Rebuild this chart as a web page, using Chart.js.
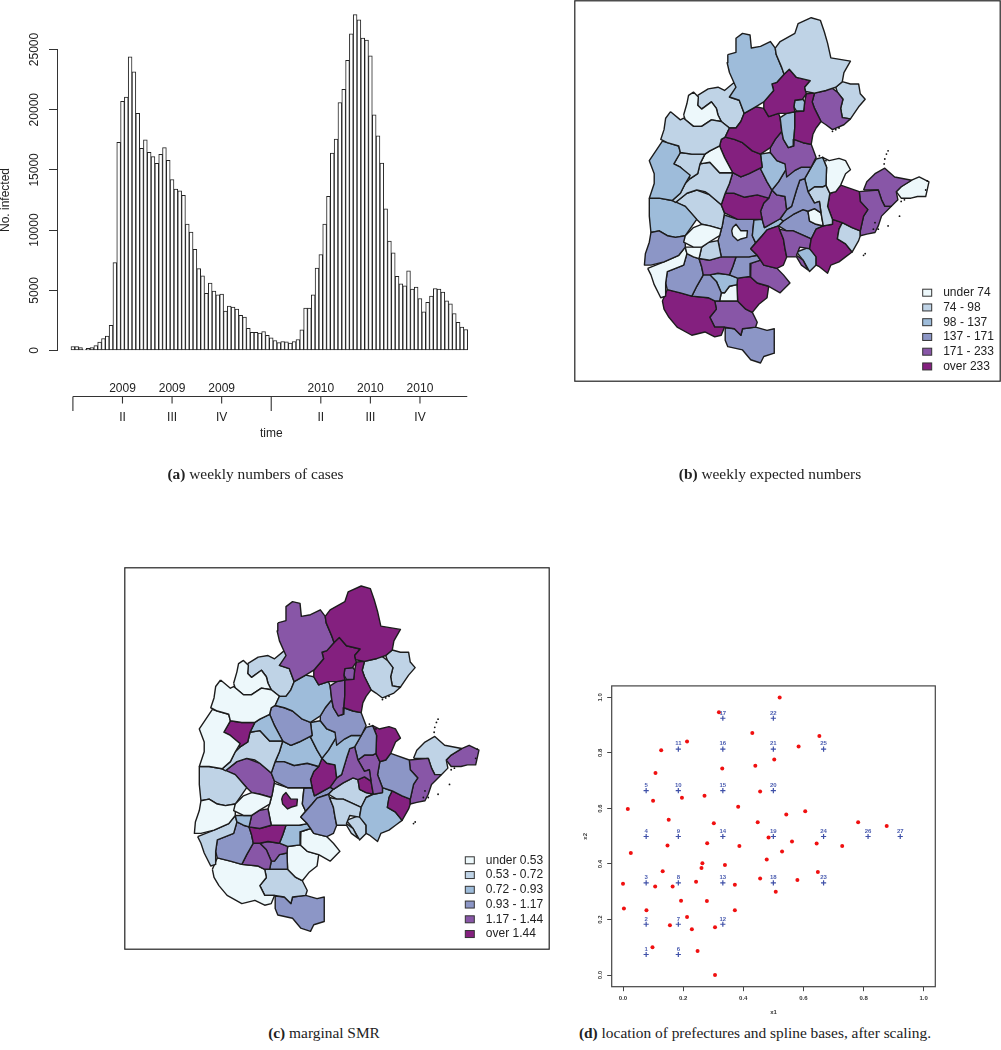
<!DOCTYPE html>
<html>
<head>
<meta charset="utf-8">
<title>weekly cases, expected numbers, SMR, spline bases</title>
<script src="https://cdn.jsdelivr.net/npm/chart.js@4/dist/chart.umd.min.js"></script>
<style>
  html, body { margin: 0; background: #fff; }
  body { position: relative; width: 1001px; height: 1050px; overflow: hidden; }
  canvas { position: absolute; }
  #chartA { left: 0; top: 0; }
  #chartB { left: 574px; top: 0; }
  #chartC { left: 124px; top: 567px; }
  #chartD { left: 570px; top: 680px; }
  .cap { position: absolute; font: 15.4px "Liberation Serif", serif; color: #222; white-space: nowrap; transform: translateX(-50%); }
</style>
</head>
<body>
<canvas id="chartA" width="500" height="490"></canvas>
<canvas id="chartB" width="427" height="382"></canvas>
<canvas id="chartC" width="426" height="383"></canvas>
<canvas id="chartD" width="380" height="340"></canvas>
<div class="cap" style="left:255.5px;top:465px"><b>(a)</b> weekly numbers of cases</div>
<div class="cap" style="left:770px;top:465px"><b>(b)</b> weekly expected numbers</div>
<div class="cap" style="left:324px;top:1024px"><b>(c)</b> marginal SMR</div>
<div class="cap" style="left:755px;top:1024px"><b>(d)</b> location of prefectures and spline bases, after scaling.</div>
<script>
// --- panel a: weekly cases, 104 weeks ---
const weeklyCases = [
  330,330,250,100,170,250,400,700,1000,1200,2100,7300,17300,20700,21050,24400,23150,19700,16800,17500,
  16450,16100,15550,16300,16850,15800,14200,13400,13260,12880,10500,9830,8400,6800,6200,4750,5600,4930,4620,4680,
  3270,3680,3600,3430,2930,2770,1850,1500,1500,1440,1580,1270,1050,830,660,750,720,610,750,910,
  1720,3520,3520,4620,6840,7970,10500,12800,16400,17550,20600,21700,24100,26300,27900,27470,25950,25780,24480,19580,
  17830,15560,11770,9080,8110,6150,5540,5370,6620,5100,5260,4320,3210,4010,4510,5150,5100,4850,4130,3880,
  3070,2350,1940,1745
];
const yearTicks = [1, 53];
const quarterTicks = [14, 27, 40, 66, 79, 92];
const quarterYears = ['2009', '2009', '2009', '2010', '2010', '2010'];
const quarterNames = ['II', 'III', 'IV', 'II', 'III', 'IV'];
const axisEndWeek = 104.4;
const caseTicks = [0, 5000, 10000, 15000, 20000, 25000];

const prefectures = [
  [[465,105],[480,85],[525,60],[535,30],[575,12],[603,20],[615,55],[625,90],[635,135],[695,145],[675,180],[670,208],[650,225],[620,235],[585,243],[558,238],[555,225],[572,205],[530,195],[508,170],[492,185],[485,165],[468,125]],
  [[320,125],[345,118],[345,75],[365,60],[388,65],[392,105],[420,100],[450,85],[465,105],[468,125],[485,165],[492,185],[470,210],[455,215],[460,235],[430,270],[405,285],[370,305],[355,265],[325,255],[345,225],[325,180],[318,150]],
  [[455,215],[470,210],[492,185],[508,170],[530,195],[572,205],[555,225],[560,245],[548,262],[525,265],[522,285],[525,300],[500,305],[475,305],[445,315],[430,290],[430,270],[460,235]],
  [[525,265],[550,262],[555,270],[552,298],[530,298],[522,285]],
  [[560,245],[585,243],[578,270],[585,290],[605,330],[590,350],[580,370],[575,400],[550,395],[522,385],[525,345],[525,300],[552,298],[555,270]],
  [[585,243],[620,235],[635,225],[655,240],[672,262],[665,290],[670,318],[695,322],[675,340],[640,355],[620,340],[605,330],[585,290],[578,270]],
  [[650,225],[670,208],[695,215],[720,215],[725,245],[740,262],[720,285],[695,322],[670,318],[665,290],[672,262],[655,240]],
  [[480,318],[500,305],[525,300],[525,345],[522,385],[520,405],[505,410],[490,385],[485,360]],
  [[370,305],[405,285],[430,290],[445,315],[475,305],[480,318],[485,360],[465,385],[450,410],[420,430],[395,420],[365,395],[340,385],[312,378],[325,350],[345,350],[360,330]],
  [[465,385],[485,360],[490,385],[505,410],[520,405],[522,385],[550,395],[575,400],[590,440],[575,470],[545,470],[525,480],[500,500],[495,460],[470,450],[450,425],[450,410]],
  [[145,300],[175,325],[185,320],[215,345],[240,345],[270,325],[300,330],[325,350],[312,378],[300,385],[295,405],[265,420],[250,430],[210,430],[175,425],[170,405],[135,395],[115,385],[125,355],[130,320]],
  [[185,310],[195,275],[200,250],[215,240],[230,255],[228,280],[240,292],[270,270],[285,290],[290,310],[300,330],[270,325],[240,345],[215,345],[190,325]],
  [[228,250],[260,230],[290,225],[310,235],[340,210],[360,235],[325,255],[355,265],[370,305],[360,330],[345,350],[325,350],[300,330],[290,310],[285,290],[270,270],[240,292],[228,280]],
  [[120,390],[135,395],[170,405],[175,425],[155,460],[175,470],[205,495],[190,520],[175,550],[150,572],[110,565],[80,565],[95,520],[95,490],[80,450],[100,420]],
  [[175,425],[210,430],[250,430],[235,460],[228,490],[205,505],[175,470],[155,460]],
  [[250,430],[265,420],[295,405],[310,440],[335,487],[295,487],[265,455],[235,460]],
  [[235,460],[265,455],[295,487],[335,487],[325,520],[312,550],[300,585],[265,555],[250,545],[225,540],[195,550],[160,578],[150,572],[175,550],[190,520],[205,505],[228,490]],
  [[300,385],[312,378],[340,385],[365,395],[395,420],[420,430],[425,470],[385,490],[360,500],[335,487],[310,440],[295,405]],
  [[420,430],[450,425],[470,450],[495,460],[505,465],[475,515],[455,540],[440,515],[420,475],[425,470]],
  [[335,487],[360,500],[385,490],[425,470],[420,475],[440,515],[455,540],[445,565],[410,555],[370,562],[340,550],[312,550],[325,520]],
  [[300,585],[312,550],[340,550],[370,562],[410,555],[445,565],[430,580],[420,605],[425,630],[400,630],[350,630],[310,610]],
  [[545,470],[575,470],[555,505],[540,510],[530,540],[515,590],[500,600],[495,560],[470,555],[455,540],[475,515],[505,465],[525,480]],
  [[445,565],[455,540],[470,555],[495,560],[500,600],[480,628],[432,655],[425,630],[420,605],[430,580]],
  [[540,510],[555,505],[565,545],[585,580],[600,575],[605,610],[585,597],[565,605],[550,600],[520,615],[490,635],[480,628],[500,600],[515,590],[530,540]],
  [[575,470],[590,445],[610,440],[622,470],[620,525],[610,530],[585,530],[565,545],[555,505]],
  [[610,440],[630,450],[660,443],[680,450],[695,478],[680,490],[665,525],[650,545],[632,550],[620,525],[622,470]],
  [[565,545],[585,530],[610,530],[620,525],[632,550],[625,590],[640,630],[640,645],[612,650],[605,610],[600,575],[585,580]],
  [[565,605],[585,597],[605,610],[612,650],[590,645],[570,635]],
  [[632,550],[650,545],[665,525],[722,545],[725,575],[748,600],[735,620],[725,665],[700,655],[670,640],[640,630],[625,590]],
  [[722,545],[780,540],[790,570],[800,590],[820,590],[790,620],[780,650],[770,670],[745,675],[725,680],[725,665],[735,620],[748,600],[725,575]],
  [[735,540],[745,515],[770,490],[800,473],[830,500],[882,510],[850,530],[835,545],[840,570],[820,590],[800,590],[790,570],[780,540]],
  [[882,510],[905,500],[935,515],[925,560],[900,560],[880,565],[850,565],[835,545],[850,530]],
  [[660,660],[670,640],[700,655],[725,665],[725,680],[720,695],[700,730],[680,705],[655,690]],
  [[575,690],[590,660],[612,650],[640,645],[640,630],[670,640],[660,660],[655,690],[680,705],[700,730],[680,745],[660,760],[635,770],[625,795],[600,775],[590,770],[590,745],[570,720]],
  [[478,660],[500,665],[520,665],[575,690],[570,720],[540,715],[530,740],[550,755],[565,785],[545,770],[530,745],[500,745],[495,720],[490,690]],
  [[490,635],[520,615],[550,600],[565,605],[570,635],[590,645],[612,650],[590,660],[575,690],[520,665],[500,665],[475,650]],
  [[530,730],[570,715],[590,745],[590,770],[570,790],[550,755]],
  [[390,720],[425,680],[440,662],[475,650],[478,660],[490,690],[495,720],[500,745],[490,770],[470,780],[430,770],[420,755],[410,740]],
  [[400,632],[425,630],[432,655],[480,628],[490,635],[475,650],[440,662],[425,680],[405,702],[395,680]],
  [[190,680],[215,655],[240,645],[265,650],[300,660],[295,680],[262,700],[240,715],[215,715],[185,700]],
  [[85,670],[110,665],[135,680],[160,685],[190,680],[190,715],[170,740],[125,760],[85,770],[65,770],[68,735],[80,700]],
  [[80,565],[110,565],[150,572],[190,590],[225,630],[190,680],[160,685],[135,680],[110,665],[85,670],[80,620]],
  [[160,578],[195,550],[225,540],[265,555],[300,585],[310,610],[303,650],[300,660],[265,650],[240,645],[225,630],[190,590]],
  [[190,715],[215,715],[240,715],[232,750],[215,745],[195,735]],
  [[240,715],[262,700],[290,695],[300,745],[265,755],[232,750]],
  [[335,655],[345,645],[360,665],[380,665],[378,685],[360,690],[350,695],[335,680],[332,665]],
  [[305,615],[350,630],[400,630],[395,680],[405,702],[390,720],[410,740],[385,745],[345,745],[300,745],[290,695],[295,680],[303,650],[310,610]],
  [[240,775],[232,750],[265,755],[300,745],[345,745],[335,775],[325,800],[290,795],[265,800],[245,800]],
  [[345,745],[385,745],[410,740],[420,755],[390,765],[388,805],[350,810],[325,800],[335,775]],
  [[390,765],[420,755],[430,770],[470,780],[490,800],[510,825],[480,855],[445,835],[410,825],[388,805]],
  [[75,780],[125,760],[170,740],[190,715],[195,735],[185,770],[135,790],[130,825],[130,865],[115,870],[95,830],[85,800]],
  [[135,790],[185,770],[195,735],[215,745],[232,750],[240,775],[245,800],[225,835],[210,865],[175,855],[135,845],[130,825]],
  [[245,800],[265,800],[285,820],[300,855],[295,880],[280,880],[260,870],[210,865],[225,835]],
  [[265,800],[290,795],[325,800],[350,810],[348,830],[325,835],[310,855],[300,855],[285,820]],
  [[300,855],[310,855],[325,835],[348,830],[350,880],[320,880],[295,880]],
  [[350,810],[388,805],[410,825],[445,835],[440,870],[415,890],[395,915],[375,905],[350,880],[348,830]],
  [[120,880],[135,845],[175,855],[210,865],[260,870],[280,880],[285,905],[265,930],[280,960],[310,960],[300,985],[280,990],[250,975],[210,985],[165,960],[140,930],[125,905]],
  [[280,880],[295,880],[320,880],[350,880],[375,905],[395,915],[410,945],[405,960],[365,965],[360,985],[340,965],[310,960],[280,960],[265,930],[285,905]],
  [[312,962],[340,965],[360,985],[365,965],[405,960],[440,970],[462,965],[462,1040],[430,1050],[420,1070],[390,1060],[365,1030],[320,1020],[312,1000]]
];
const expectedClass = [1,2,5,2,5,4,1,2,5,4,1,0,1,2,1,0,1,5,2,4,5,3,4,3,2,0,1,0,5,4,4,0,1,5,4,3,2,5,2,0,3,2,1,0,1,0,3,4,3,4,0,3,3,2,0,5,5,4,3];
const smrClass =      [5,4,5,4,5,1,1,4,2,3,0,0,1,0,5,2,1,3,2,2,3,2,5,4,3,5,4,5,3,4,1,4,5,2,1,1,1,3,3,0,0,1,4,2,4,5,0,5,2,0,1,3,4,4,3,0,0,1,3];
const classColours = ['#edf8fb', '#bfd3e6', '#9ebcda', '#8c96c6', '#8856a7', '#84207f'];
const expectedLabels = ['under 74', '74 - 98', '98 - 137', '137 - 171', '171 - 233', 'over 233'];
const smrLabels = ['under 0.53', '0.53 - 0.72', '0.72 - 0.93', '0.93 - 1.17', '1.17 - 1.44', 'over 1.44'];
const islands = [[640,360],[650,355],[660,350],[600,435],[610,440],[620,450],[805,430],[800,445],[798,460],[810,420],[740,735],[735,740],[845,620],[810,650],[765,660],[780,660],[770,640],[860,570],[850,575],[930,512],[925,540]];

// --- panel d: prefecture locations (red) and spline knots (blue) ---
const prefX = [.319,.430,.213,.127,.440,.330,.108,.456,.271,.196,.100,.383,.016,.152,.448,.302,.484,.280,.148,.387,.026,.478,.264,.339,.261,.132,.456,.243,0,.372,.107,.165,.193,.279,.003,.078,.372,.213,.156,.229,.306,.098,.248,.306,.521,.653,.584,.503,.543,.606,.782,.877,.562,.644,.729,.529,.648,.580,.508];
const prefY = [.947,.872,.841,.810,.754,.744,.728,.661,.646,.639,.628,.606,.598,.559,.550,.547,.495,.475,.467,.465,.440,.416,.403,.396,.386,.374,.348,.336,.329,.325,.319,.319,.268,.267,.240,.233,.233,.209,.179,.165,.172,.100,.087,0,1,.861,.823,.776,.578,.590,.550,.537,.481,.474,.465,.445,.371,.342,.300];
const knotX = [.077,.077,.077,.077,.077,.184,.184,.184,.184,.184,.184,.332,.332,.332,.332,.332,.332,.5,.5,.5,.5,.5,.667,.667,.667,.815,.922];
const knotY = [.074,.183,.332,.499,.664,.074,.183,.332,.499,.664,.814,.183,.332,.499,.664,.814,.925,.332,.499,.664,.814,.925,.332,.499,.814,.499,.499];
const unitTicks = [0, 0.2, 0.4, 0.6, 0.8, 1];

const SANS = '"Liberation Sans", Arial, sans-serif';
const INK = '#333';

// --- panel a ---
// year / quarter axis under the bars, R style
const quarterAxis = {
  id: 'quarterAxis',
  afterDraw(chart) {
    const ctx = chart.ctx, sx = chart.scales.x;
    ctx.save();
    ctx.strokeStyle = INK; ctx.fillStyle = '#222'; ctx.lineWidth = 1.1;
    ctx.font = '12px ' + SANS; ctx.textAlign = 'center'; ctx.textBaseline = 'middle';
    ctx.beginPath();
    ctx.moveTo(sx.getPixelForValue(yearTicks[0]), 396.5);
    ctx.lineTo(sx.getPixelForValue(axisEndWeek), 396.5);
    yearTicks.forEach(w => {
      ctx.moveTo(sx.getPixelForValue(w), 396.5);
      ctx.lineTo(sx.getPixelForValue(w), 411);
    });
    quarterTicks.forEach((w, i) => {
      const x = sx.getPixelForValue(w);
      ctx.moveTo(x, 396.5);
      ctx.lineTo(x, 403.5);
      ctx.fillText(quarterYears[i], x, 389);
      ctx.fillText(quarterNames[i], x, 418);
    });
    ctx.stroke();
    ctx.fillText('time', sx.getPixelForValue(yearTicks[1]), 433.5);
    ctx.restore();
  }
};

new Chart(document.getElementById('chartA'), {
  type: 'bar',
  data: {
    datasets: [{
      data: weeklyCases.map((v, i) => ({ x: i + 1, y: v })),
      backgroundColor: '#fff',
      borderColor: '#222',
      borderWidth: 1,
      borderSkipped: false,
      barPercentage: 1,
      categoryPercentage: 1,
      clip: false
    }]
  },
  plugins: [quarterAxis],
  options: {
    responsive: false,
    animation: false,
    layout: { padding: { top: 49.5, right: 20, bottom: 139.5, left: 0 } },
    plugins: { legend: { display: false }, tooltip: { enabled: false } },
    scales: {
      x: { type: 'linear', display: false, offset: false, min: -3.17, max: 107.74 },
      y: {
        min: 0, max: 25000,
        afterFit(s) { s.width = 57; },
        afterBuildTicks(s) { s.ticks = caseTicks.map(v => ({ value: v })); },
        grid: { drawOnChartArea: false, tickLength: 8, color: INK },
        border: { color: INK },
        ticks: { minRotation: 90, maxRotation: 90, crossAlign: 'center', padding: -2.7, autoSkip: false, color: '#222', font: { family: SANS, size: 12 }, callback: v => String(v) },
        title: { display: true, text: 'No. infected', color: '#222', padding: { top: -1.5, bottom: 0 }, font: { family: SANS, size: 12 } }
      }
    }
  }
});

// --- panels b, c ---
// frame round the map and the class legend, same in both
const mapFrame = {
  id: 'mapFrame',
  afterDraw(chart, args, opts) {
    const ctx = chart.ctx;
    ctx.save();
    ctx.strokeStyle = '#222'; ctx.lineWidth = 1.2;
    ctx.strokeRect(0.8, 0.8, chart.width - 1.6, chart.height - 1.6);
    ctx.font = '12px ' + SANS; ctx.textBaseline = 'middle'; ctx.fillStyle = '#222';
    opts.labels.forEach((label, i) => {
      const y = opts.legendY + i * 14.75;
      ctx.fillStyle = classColours[i];
      ctx.fillRect(opts.legendX, y - 3.5, 9, 7);
      ctx.lineWidth = 1; ctx.strokeStyle = '#333';
      ctx.strokeRect(opts.legendX, y - 3.5, 9, 7);
      ctx.fillStyle = '#222';
      ctx.fillText(label, opts.legendX + 20.5, y);
    });
    ctx.restore();
  }
};

function drawMap(canvasId, classes, labels, xMin, xMax, yMin, yMax, legendX, legendY) {
  const sets = [{
    data: islands.map(p => ({ x: p[0], y: p[1] })),
    showLine: false, pointRadius: 0.9, pointBackgroundColor: '#111', pointBorderWidth: 0
  }];
  prefectures.forEach((outline, i) => {
    const pts = outline.concat([outline[0]]);
    sets.push({
      data: pts.map(p => ({ x: p[0], y: p[1] })),
      showLine: true,
      tension: 0,
      fill: 'shape',
      backgroundColor: classColours[classes[i]],
      borderColor: '#1c1c1c',
      borderWidth: 1.4,
      borderJoinStyle: 'round',
      pointRadius: 0
    });
  });
  new Chart(document.getElementById(canvasId), {
    type: 'scatter',
    data: { datasets: sets },
    plugins: [mapFrame],
    options: {
      responsive: false,
      animation: false,
      layout: { padding: 0 },
      plugins: {
        legend: { display: false },
        tooltip: { enabled: false },
        mapFrame: { labels, legendX, legendY }
      },
      scales: {
        x: { type: 'linear', display: false, min: xMin, max: xMax },
        y: { type: 'linear', display: false, reverse: true, min: yMin, max: yMax }
      }
    }
  });
}
drawMap('chartB', expectedClass, expectedLabels, -138, 1143, -30, 1116, 348.7, 292.7);
drawMap('chartC', smrClass, smrLabels, -138, 1140, -34, 1115, 341.3, 293.3);

// --- panel d ---
const knotNumbers = {
  id: 'knotNumbers',
  afterDatasetsDraw(chart) {
    const ctx = chart.ctx, a = chart.chartArea;
    ctx.save();
    ctx.strokeStyle = '#444'; ctx.lineWidth = 1.2;
    ctx.strokeRect(a.left, a.top, a.right - a.left, a.bottom - a.top);
    ctx.fillStyle = '#4a5cb0';
    ctx.font = 'bold 6px ' + SANS; ctx.textAlign = 'center'; ctx.textBaseline = 'middle';
    knotX.forEach((v, i) => {
      ctx.fillText(String(i + 1), chart.scales.x.getPixelForValue(v), chart.scales.y.getPixelForValue(knotY[i]) - 5.3);
    });
    ctx.restore();
  }
};

const smallFont = { family: SANS, size: 6, weight: 'bold' };
new Chart(document.getElementById('chartD'), {
  type: 'scatter',
  data: {
    datasets: [
      {
        data: prefX.map((v, i) => ({ x: v, y: prefY[i] })),
        pointStyle: 'circle', pointRadius: 2, pointBackgroundColor: '#f01010', pointBorderWidth: 0
      },
      {
        data: knotX.map((v, i) => ({ x: v, y: knotY[i] })),
        pointStyle: 'cross', pointRadius: 2.6, pointBorderColor: '#3f50a8', pointBorderWidth: 1.2
      }
    ]
  },
  plugins: [knotNumbers],
  options: {
    responsive: false,
    animation: false,
    layout: { padding: { top: 4.7, right: 14.7, bottom: 0, left: 0 } },
    plugins: { legend: { display: false }, tooltip: { enabled: false } },
    scales: {
      x: {
        type: 'linear', min: -0.0376, max: 1.0386,
        afterFit(s) { s.height = 33.3; },
        afterBuildTicks(s) { s.ticks = unitTicks.map(v => ({ value: v })); },
        grid: { drawOnChartArea: false, tickLength: 4.5, color: '#444' },
        border: { display: false },
        ticks: { maxRotation: 0, padding: 3.5, autoSkip: false, color: INK, font: smallFont, callback: v => v.toFixed(1) },
        title: { display: true, text: 'x1', color: INK, padding: { top: 0, bottom: 3.7 }, font: smallFont }
      },
      y: {
        type: 'linear', min: -0.042, max: 1.0415,
        afterFit(s) { s.width = 41.7; },
        afterBuildTicks(s) { s.ticks = unitTicks.map(v => ({ value: v })); },
        grid: { drawOnChartArea: false, tickLength: 4.5, color: '#444' },
        border: { display: false },
        ticks: { minRotation: 90, maxRotation: 90, crossAlign: 'center', padding: 2.3, autoSkip: false, color: INK, font: smallFont, callback: v => v.toFixed(1) },
        title: { display: true, text: 'x2', color: INK, padding: { top: 12, bottom: 0 }, font: smallFont }
      }
    }
  }
});
</script>
</body>
</html>
